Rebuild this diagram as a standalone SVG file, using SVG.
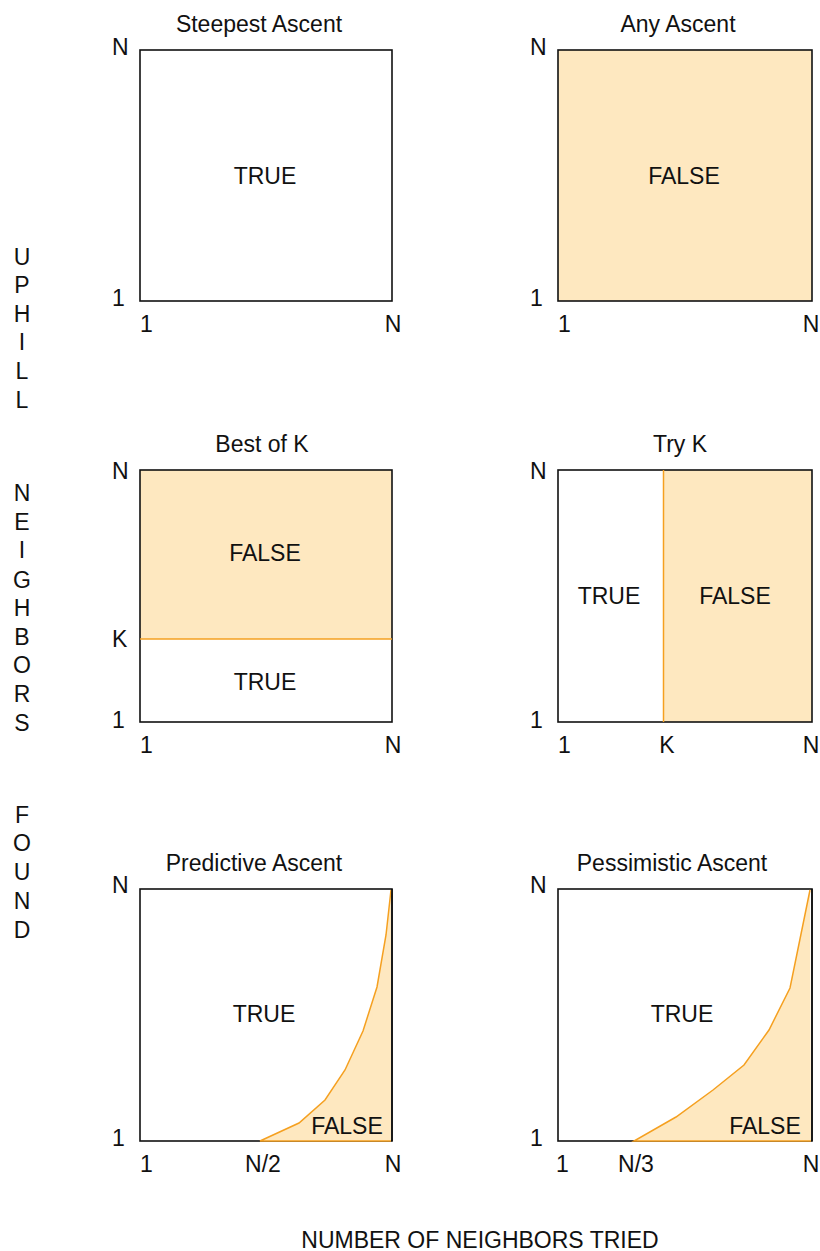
<svg xmlns="http://www.w3.org/2000/svg" width="820" height="1251" viewBox="0 0 820 1251">
<style>
text{font-family:"Liberation Sans",Arial,sans-serif;font-size:23px;fill:#111;}
.m{text-anchor:middle;}
.box{fill:none;stroke:#111;stroke-width:1.6;}
.fill{fill:#fee8c0;stroke:none;}
.or{fill:none;stroke:#f5a020;stroke-width:1.5;}
</style>
<rect width="820" height="1251" fill="#fff"/>

<g id="steepest">
<text class="m" x="259" y="32">Steepest Ascent</text>
<rect class="box" x="140" y="50" width="252" height="251"/>
<text class="m" x="265" y="184">TRUE</text>
<text x="112" y="55">N</text>
<text x="112" y="306">1</text>
<text x="140" y="332">1</text>
<text class="m" x="393" y="332">N</text>
</g>

<g id="any">
<text class="m" x="678" y="32">Any Ascent</text>
<rect class="fill" x="558" y="50" width="254" height="251"/>
<rect class="box" x="558" y="50" width="254" height="251"/>
<text class="m" x="684" y="184">FALSE</text>
<text x="530" y="55">N</text>
<text x="530" y="306">1</text>
<text x="558" y="332">1</text>
<text class="m" x="811" y="332">N</text>
</g>

<g id="bestofk">
<text class="m" x="262" y="452">Best of K</text>
<rect class="fill" x="140" y="470" width="252" height="169"/>
<rect class="box" x="140" y="470" width="252" height="252"/>
<line class="or" x1="140" y1="639" x2="392" y2="639"/>
<text class="m" x="265" y="561">FALSE</text>
<text class="m" x="265" y="690">TRUE</text>
<text x="112" y="479">N</text>
<text x="112" y="647">K</text>
<text x="112" y="728">1</text>
<text x="140" y="753">1</text>
<text class="m" x="393" y="753">N</text>
</g>

<g id="tryk">
<text class="m" x="680" y="452">Try K</text>
<rect class="fill" x="663" y="470" width="149" height="252"/>
<rect class="box" x="558" y="470" width="254" height="252"/>
<line class="or" x1="663.5" y1="470" x2="663.5" y2="722"/>
<text class="m" x="609" y="604">TRUE</text>
<text class="m" x="735" y="604">FALSE</text>
<text x="530" y="479">N</text>
<text x="530" y="728">1</text>
<text x="558" y="753">1</text>
<text class="m" x="667" y="753">K</text>
<text class="m" x="811" y="753">N</text>
</g>

<g id="predictive">
<text class="m" x="254" y="871">Predictive Ascent</text>
<rect class="box" x="140" y="889" width="252" height="252"/>
<polygon class="fill" points="260,1141 299,1123 325,1100 345,1070 363,1031 377,987 386,935 391,890 391,1141"/>
<polyline class="or" points="391,1141 260,1141 299,1123 325,1100 345,1070 363,1031 377,987 386,935 391,890"/>
<line x1="392" y1="889" x2="392" y2="1141" stroke="#111" stroke-width="1.6"/>
<text class="m" x="264" y="1022">TRUE</text>
<text class="m" x="347" y="1134">FALSE</text>
<text x="112" y="893">N</text>
<text x="112" y="1146">1</text>
<text x="140" y="1172">1</text>
<text class="m" x="263" y="1172">N/2</text>
<text class="m" x="393" y="1172">N</text>
</g>

<g id="pessimistic">
<text class="m" x="672" y="871">Pessimistic Ascent</text>
<rect class="box" x="558" y="889" width="254" height="252"/>
<polygon class="fill" points="634,1141 676,1117 713,1090 744,1065 769,1030 790,988 810,890 811,1141"/>
<polyline class="or" points="811,1141 634,1141 676,1117 713,1090 744,1065 769,1030 790,988 810,890"/>
<line x1="812" y1="889" x2="812" y2="1141" stroke="#111" stroke-width="1.6"/>
<text class="m" x="682" y="1022">TRUE</text>
<text class="m" x="765" y="1134">FALSE</text>
<text x="530" y="893">N</text>
<text x="530" y="1146">1</text>
<text x="556" y="1172">1</text>
<text class="m" x="636" y="1172">N/3</text>
<text class="m" x="811" y="1172">N</text>
</g>

<g id="yaxis-label">
<text class="m" x="22" y="265">U</text>
<text class="m" x="22" y="293">P</text>
<text class="m" x="22" y="322">H</text>
<text class="m" x="22" y="350">I</text>
<text class="m" x="22" y="379">L</text>
<text class="m" x="22" y="408">L</text>
<text class="m" x="22" y="501">N</text>
<text class="m" x="22" y="530">E</text>
<text class="m" x="22" y="558">I</text>
<text class="m" x="22" y="588">G</text>
<text class="m" x="22" y="616">H</text>
<text class="m" x="22" y="645">B</text>
<text class="m" x="22" y="673">O</text>
<text class="m" x="22" y="702">R</text>
<text class="m" x="22" y="731">S</text>
<text class="m" x="22" y="823">F</text>
<text class="m" x="22" y="851">O</text>
<text class="m" x="22" y="880">U</text>
<text class="m" x="22" y="909">N</text>
<text class="m" x="22" y="938">D</text>
</g>

<g id="xaxis-label">
<text class="m" x="480" y="1248">NUMBER OF NEIGHBORS TRIED</text>
</g>

<g id="connectors"></g>
</svg>
